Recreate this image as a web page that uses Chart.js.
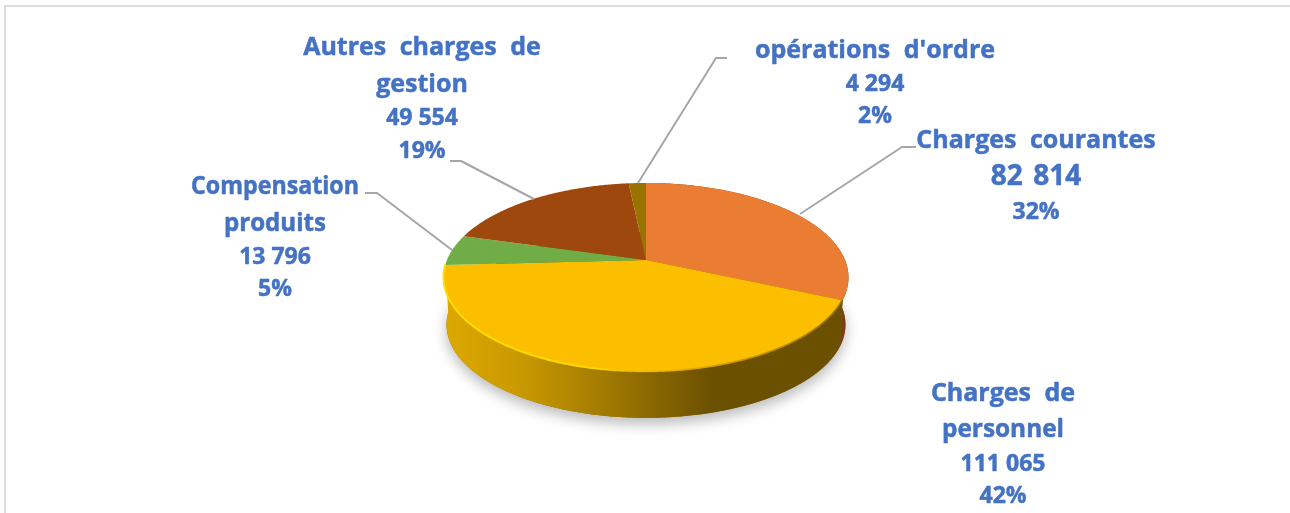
<!DOCTYPE html>
<html><head><meta charset="utf-8">
<style>html,body{margin:0;padding:0;background:#fff}canvas{display:block}</style>
<script src="https://cdn.jsdelivr.net/npm/chart.js@4"></script>
</head><body><canvas id="c" width="1290" height="513"></canvas>
<script>
const categories = ["Charges courantes", "Charges de personnel", "Compensation produits", "Autres charges de gestion", "opérations d'ordre"];
const values = [82814, 111065, 13796, 49554, 4294];
const valueLabels = ["82 814", "111 065", "13 796", "49 554", "4 294"];
const percentLabels = ["32%", "42%", "5%", "19%", "2%"];
const colors = ["#EB7D32", "#FBBF00", "#70AD47", "#9E480E", "#997300"];

const labelLayout = [
  {cx:1036, lines:[["Charges courantes",148]], v:185, p:219, big:true, leader:[[916,147],[902,147],[800,214]]},
  {cx:1003, lines:[["Charges de",401],["personnel",437,122]], v:471, p:503},
  {cx:275, lines:[["Compensation",194,168],["produits",231,102]], v:264, p:296, leader:[[365,193],[377,193],[452,250]]},
  {cx:422, lines:[["Autres charges de",55],["gestion",92]], v:125, p:158, leader:[[450,161],[461,161],[534,199]]},
  {cx:875, lines:[["opérations d'ordre",58]], v:91, p:123, leader:[[727,58],[716,58],[638,183]]}
];
const G = {cx:646, cy:260, a:91.3, b:199, k:0.185, depth:47.5, shrink:0.985};
function P(t, bottom){
  const u=Math.sin(t), v=-Math.cos(t), s=1/(1-G.k*v), f=bottom?G.shrink:1;
  return [G.cx+G.b*f*u*s, G.cy+(bottom?G.depth:0)+G.a*f*v*s];
}
function sample(t0,t1,bottom){
  const n=Math.max(2,Math.ceil(Math.abs(t1-t0)/0.01)), pts=[];
  for(let i=0;i<=n;i++) pts.push(P(t0+(t1-t0)*i/n,bottom));
  return pts;
}
function trace(ctx,pts){pts.forEach((p,i)=> i?ctx.lineTo(p[0],p[1]):ctx.moveTo(p[0],p[1]));}
function trace2(ctx,pts){pts.forEach(p=>ctx.lineTo(p[0],p[1]));}
const top0=e=>e.startAngle+Math.PI/2, top1=e=>e.endAngle+Math.PI/2;

const pie3d = {
  id:'pie3d',
  beforeDraw(chart){
    const ctx=chart.ctx; ctx.save();
    ctx.fillStyle='#dcdcdc';
    ctx.fillRect(4,5,1286,2); ctx.fillRect(4,5,2,508);
    ctx.restore();
  },
  beforeDatasetsDraw(chart){
    const ctx=chart.ctx, arcs=chart.getDatasetMeta(0).data;
    ctx.save();
    ctx.shadowColor='rgba(0,0,0,0.28)'; ctx.shadowBlur=14; ctx.shadowOffsetY=6;
    ctx.fillStyle='#8a6a00';
    ctx.beginPath(); trace(ctx,sample(0,Math.PI*2,true)); ctx.closePath(); ctx.fill();
    ctx.restore();
    const rimYellow=ctx.createLinearGradient(444,0,850,0);
    rimYellow.addColorStop(0,'#dda800');
    rimYellow.addColorStop(0.2,'#c89800');
    rimYellow.addColorStop(0.42,'#9c7600');
    rimYellow.addColorStop(0.66,'#6b5000');
    rimYellow.addColorStop(1,'#6b5000');
    const rims=['#7a3e14',rimYellow];
    arcs.forEach((e,i)=>{
      if(Math.cos((top0(e)+top1(e))/2)>0 && rims[i]===undefined) return;
      if(rims[i]===undefined) return;
      ctx.fillStyle=rims[i];
      ctx.beginPath();
      trace(ctx,sample(top0(e),top1(e),false).concat(sample(top1(e),top0(e),true)));
      ctx.closePath(); ctx.fill();
    });
  },
  beforeDatasetDraw(chart){
    const ctx=chart.ctx, arcs=chart.getDatasetMeta(0).data;
    arcs.forEach(e=>{
      ctx.fillStyle=e.options.backgroundColor;
      ctx.beginPath(); ctx.moveTo(G.cx,G.cy);
      trace2(ctx,sample(top0(e),top1(e),false));
      ctx.closePath(); ctx.fill();
    });
    const y=arcs[1];
    const g=ctx.createLinearGradient(444,0,850,0);
    g.addColorStop(0,'rgba(255,222,0,0.95)');
    g.addColorStop(0.38,'rgba(255,222,0,0.8)');
    g.addColorStop(0.5,'rgba(230,170,0,0.3)');
    g.addColorStop(0.7,'rgba(150,110,0,0.45)');
    g.addColorStop(1,'rgba(130,95,0,0.8)');
    ctx.save();
    ctx.strokeStyle=g; ctx.lineWidth=2;
    ctx.beginPath(); trace(ctx,sample(top0(y),top1(y),false).map(p=>[p[0],p[1]-0.5])); ctx.stroke();
    ctx.restore();
    return false;
  },
  afterDraw(chart){
    const ctx=chart.ctx;
    ctx.save();
    ctx.textAlign='center'; ctx.textBaseline='alphabetic'; ctx.fillStyle='#4472C4';
    ctx.strokeStyle='#4472C4'; ctx.lineWidth=0.5; ctx.lineJoin='round';
    const put=(s,x,y,w)=>{
      if(w){ctx.fillText(s,x,y,w);ctx.strokeText(s,x,y,w);}
      else{ctx.fillText(s,x,y);ctx.strokeText(s,x,y);}
    };
    labelLayout.forEach((l,i)=>{
      if(l.leader){
        ctx.save();
        ctx.strokeStyle='#a6a6a6'; ctx.lineWidth=2;
        ctx.beginPath(); trace(ctx,l.leader); ctx.stroke();
        ctx.restore();
      }
      ctx.wordSpacing='7px';
      ctx.font='bold 25px "Open Sans"';
      l.lines.forEach(t=>put(t[0],l.cx,t[1],t[2]));
      ctx.wordSpacing=l.big?'3px':'0px';
      ctx.font=l.big?'bold 28px "Open Sans"':'bold 23px "Open Sans"';
      put(valueLabels[i],l.cx,l.v);
      ctx.wordSpacing='0px';
      ctx.font='bold 23px "Open Sans"';
      put(percentLabels[i],l.cx,l.p);
    });
    ctx.restore();
  }
};

new Chart(document.getElementById('c'),{
  type:'pie',
  data:{labels:categories,datasets:[{data:values,backgroundColor:colors,borderWidth:0}]},
  options:{responsive:false,animation:false,events:[],
    plugins:{legend:{display:false},tooltip:{enabled:false}}},
  plugins:[pie3d]
});
</script></body></html>
